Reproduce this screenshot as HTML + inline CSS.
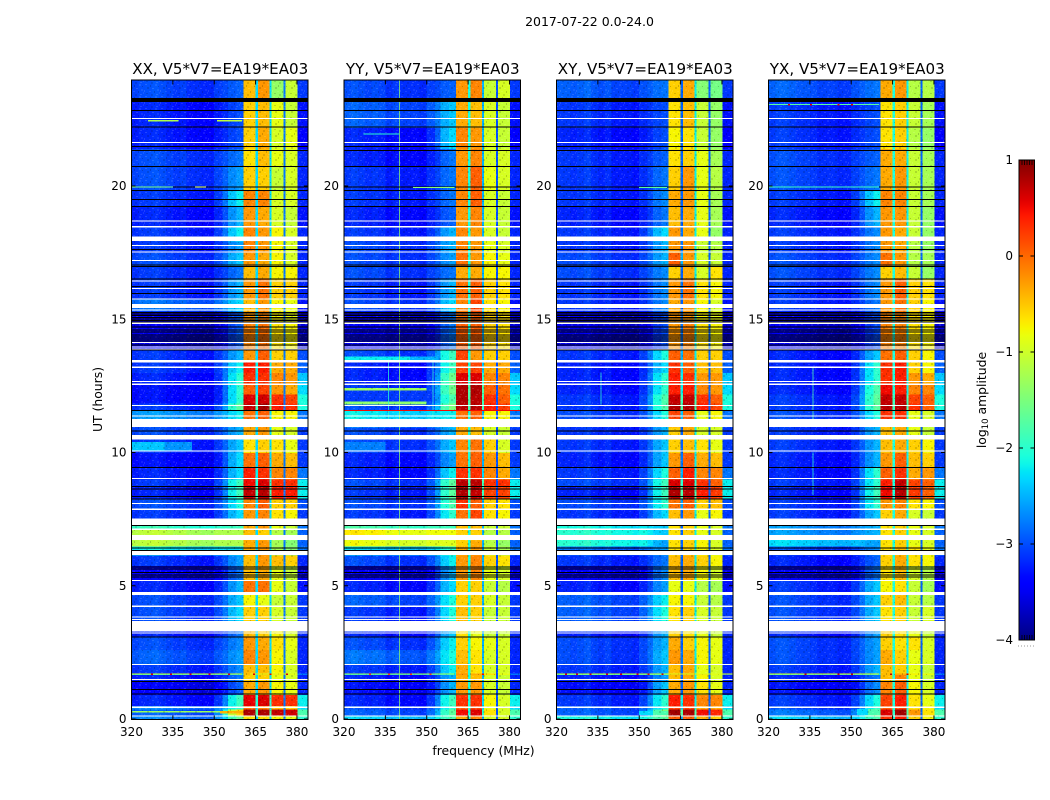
<!DOCTYPE html>
<html>
<head>
<meta charset="utf-8">
<title>2017-07-22 spectrogram</title>
<style>
html,body{margin:0;padding:0;background:#fff;}
svg{display:block;}
text{font-family:"DejaVu Sans","Liberation Sans",sans-serif;fill:#000;}
</style>
</head>
<body>
<svg id="fig" xmlns="http://www.w3.org/2000/svg" width="1050" height="800" viewBox="0 0 1050 800">
  <defs>
    <pattern id="speckle" width="16" height="12" patternUnits="userSpaceOnUse">
      <rect x="1" y="0" width="2" height="1" fill="#fff" opacity=".13"/>
      <rect x="6" y="1" width="1" height="2" fill="#000" opacity=".18"/>
      <rect x="11" y="0" width="2" height="2" fill="#fff" opacity=".09"/>
      <rect x="14" y="2" width="1" height="1" fill="#000" opacity=".2"/>
      <rect x="3" y="3" width="2" height="2" fill="#000" opacity=".14"/>
      <rect x="8" y="4" width="2" height="1" fill="#fff" opacity=".13"/>
      <rect x="13" y="5" width="2" height="2" fill="#fff" opacity=".08"/>
      <rect x="0" y="6" width="1" height="2" fill="#fff" opacity=".12"/>
      <rect x="5" y="7" width="2" height="1" fill="#fff" opacity=".1"/>
      <rect x="10" y="7" width="1" height="2" fill="#000" opacity=".18"/>
      <rect x="2" y="9" width="2" height="1" fill="#000" opacity=".15"/>
      <rect x="7" y="10" width="2" height="2" fill="#000" opacity=".12"/>
      <rect x="12" y="10" width="2" height="1" fill="#fff" opacity=".13"/>
      <rect x="15" y="8" width="1" height="2" fill="#fff" opacity=".09"/>
    </pattern>
    <linearGradient id="jetGradient" x1="0" y1="1" x2="0" y2="0"></linearGradient>
  </defs>
  <text x="589.5" y="26" font-size="12.5" text-anchor="middle">2017-07-22 0.0-24.0</text>
  <text x="483.5" y="755" font-size="12.4" text-anchor="middle">frequency (MHz)</text>
  <text x="0" y="0" font-size="12.4" text-anchor="middle" transform="translate(102,399.5) rotate(-90)">UT (hours)</text>
  <text x="0" y="0" font-size="12.4" text-anchor="middle" transform="translate(986,400) rotate(-90)">log<tspan font-size="8.5" dy="2">10</tspan><tspan dy="-2"> amplitude</tspan></text>
  <g id="panels"></g>
  <g id="colorbar"></g>
</svg>
<script>
const panelTitles = ["XX, V5*V7=EA19*EA03","YY, V5*V7=EA19*EA03","XY, V5*V7=EA19*EA03","YX, V5*V7=EA19*EA03"];
const freqTicks = [320,335,350,365,380];
const hourTicks = [0,5,10,15,20];
const cbarTicks = [-4,-3,-2,-1,0,1];

const hourEdges = [0,.15,.37,.5,.92,1.4,1.66,1.72,2.05,2.6,3.08,3.28,3.67,4.23,4.7,5.2,5.75,6.15,6.49,6.72,6.9,7.12,7.28,7.87,8.25,8.72,9,9.44,10,10.5,10.96,11.26,11.6,11.85,12.2,12.56,13,13.47,13.85,14.85,15.3,15.8,16.5,17,17.5,17.93,18.47,19.24,19.84,20.74,21.4,22.2,23.16,24];

// Per time row: [background, shoulder, band1, band2, band3, band4] in log10 amplitude
const levelsXX = [
[-2.6,-1.6,-.6,-.6,-.7,-.8],[-2.8,-.6,.8,.8,.7,.65],[-2.6,-2,0,-.1,-.4,-.5],[-3.1,-1.9,.55,.6,.3,.3],[-3.3,-2.9,-.3,-.2,-.7,-.8],
[-3.1,-2.8,-.5,-.5,-.8,-.9],[-2.3,-2.3,-.4,-.4,-.6,-.8],[-3,-2.7,-.4,-.4,-.7,-.9],[-2.8,-2.6,-.1,-.2,-.7,-.9],[-2.9,-2.7,-.2,-.3,-.6,-.8],
[-3.1,-2.8,-.4,-.5,-.7,-.9],[-3.1,-2.8,-.4,-.5,-.7,-.9],[-2.9,-2.3,-.5,-.5,-.9,-1],[-2.9,-2.4,-.7,-.8,-1,-1],[-3.1,-2.5,0,0,-.8,-1],
[-3.3,-2.8,-.4,-.3,-.8,-1],[-3,-2.6,-.4,-.2,-.4,-.5],[-2.3,-2.3,-.3,-.2,-1.2,-1.4],[-1.2,-1.2,-.3,-.2,-1.2,-1.4],[-1.2,-1.2,-.3,-.3,-1.2,-1.4],
[-1.2,-1.2,-.4,-.5,-1.1,-1.2],[-2,-1.9,-.3,-.2,-.8,-1],[-3,-2.3,-.2,-.1,-.6,-.7],[-2.9,-2.1,-.1,.1,-.5,-.5],[-3.1,-1.9,.7,.75,.4,.4],
[-3,-1.9,.5,.6,.3,.3],[-3.1,-2.3,.4,.3,-.1,-.1],[-3.2,-2.3,0,.1,-.3,-.4],[-3,-2.4,-.6,-.5,-.6,-.8],[-2.9,-2.5,-.3,-.2,-.8,-.9],
[-2.9,-2.5,-.3,-.2,-.8,-.9],[-2.5,-2.2,0,.1,-.7,-.7],[-3,-1.7,.7,.85,.4,.3],[-3.2,-2,.6,.65,.3,.2],[-3.2,-2,.1,.2,-.2,-.3],
[-3.1,-2,.3,.3,-.1,-.2],[-3,-2.2,.4,.4,-.3,-.3],[-3,-2.5,-.2,.1,-.5,-.5],[-3.4,-2.9,-.1,0,-.6,-.7],[-3.3,-2.9,-.2,-.1,-.7,-.8],
[-2.7,-2.3,-.4,-.2,-.7,-.8],[-3,-2.5,-.2,0,-.5,-.5],[-3,-2.8,-.4,-.3,-.7,-.7],[-2.9,-2.4,-.2,-.3,-.7,-.9],[-3,-2.6,-.1,-.2,-.7,-.9],
[-3,-2.2,-.1,-.2,-.7,-.9],[-3.1,-2.5,-.2,-.3,-.9,-1],[-3,-2.2,-.1,-.1,-.9,-.9],[-2.9,-2.6,-.5,-.5,-1,-.9],[-2.9,-2.8,-.6,-.4,-.8,-.9],
[-3.1,-3,-.5,-.3,-.9,-.8],[-3.1,-3,-.5,-.4,-.8,-1],[-2.9,-2.9,-.4,-.2,-1.3,-1]
];
const levelsYY = [
[-2.4,-1.8,-.3,-.1,-.9,-.9],[-2.8,-1.7,.5,.6,-.6,-.9],[-2.9,-2,.1,.2,-.8,-.9],[-3.1,-1.9,.3,.3,-.7,-.9],[-3.2,-2.5,-.2,-.2,-.9,-1],
[-3.1,-2.5,-.3,-.4,-.9,-1],[-2.4,-2.2,-.2,-.3,-.6,-.8],[-3,-2.2,-.3,-.6,-.9,-.9],[-2.7,-2.1,-.4,-.6,-.9,-.9],[-2.9,-2.2,-.5,-.7,-.8,-.9],
[-3.1,-2.4,-.6,-.8,-1,-1],[-3,-2.4,-.6,-.7,-1,-1],[-3,-2.1,-.4,-.5,-1,-1],[-2.8,-2.1,-.5,-.5,-.9,-1],[-3.1,-2.3,-.5,-.5,-1,-1.1],
[-3.3,-2.5,-.2,-.1,-.8,-.9],[-2.9,-2.2,-.2,-.1,-.5,-.6],[-2.4,-2,-.3,-.2,-1,-1.2],[-.9,-.9,-.5,-.3,-1.1,-1.3],[-1,-1,-.5,-.4,-1.1,-1.2],
[-.8,-.8,-.5,-.5,-1.1,-1.1],[-1.9,-1.9,-.4,-.4,-1,-1],[-3,-2,0,.2,-.6,-.7],[-2.9,-1.8,.3,.1,-.5,-.6],[-3,-1.7,.8,.7,.2,.2],
[-2.9,-1.7,.75,.75,.3,.3],[-3.1,-2.2,.3,.3,-.1,-.3],[-3.1,-2.6,0,.1,-.2,-.4],[-2.9,-2.4,-.1,0,-.5,-.9],[-2.9,-2.5,-.3,-.4,-.9,-1],
[-2.5,-2.4,-.3,-.3,-.8,-.9],[-2.3,-2.2,0,.1,-.7,-.7],[-2.9,-1.5,.75,.75,.4,.25],[-3,-1.8,.8,.75,.3,.1],[-3,-1.6,.8,.8,.1,0],
[-3.1,-1.6,.6,.6,-.1,-.1],[-3.1,-1.9,.2,.2,-.3,-.3],[-2.9,-1.9,.2,-.2,-.5,-.5],[-3.3,-2.8,.1,.1,-.5,-.6],[-3.3,-2.8,0,.1,-.5,-.6],
[-2.9,-2.3,-.1,.2,-.6,-.7],[-3,-2.5,0,.1,-.5,-.6],[-2.9,-2.8,-.3,-.3,-.7,-.7],[-2.9,-2.6,0,-.2,-.7,-.8],[-2.9,-2.5,-.1,-.2,-.8,-.9],
[-3,-2.5,-.1,-.2,-.9,-1],[-3.1,-2.9,-.2,-.1,-.9,-1],[-3,-2.8,-.1,.1,-.9,-1],[-3,-2.8,-.1,.1,-.8,-.9],[-3.1,-2.8,-.2,-.1,-.9,-.9],
[-3.1,-2.3,-.1,-.2,-.9,-1],[-2.8,-2.4,-.3,-.4,-.9,-1],[-2.9,-2.9,-.2,-.1,-1,-.9]
];
const levelsXY = [
[-2.2,-1.7,.1,.1,-.3,-.5],[-2.8,-1.5,.85,.8,.5,.35],[-2.8,-2.1,.2,.2,-.3,-.3],[-3,-2,.4,.3,-.1,-.1],[-3.2,-2.4,-.3,-.2,-.6,-.8],
[-3.1,-2.6,-.4,-.3,-.7,-.9],[-2.2,-2.1,-.3,-.3,-.6,-.8],[-3,-2.5,-.4,-.3,-.8,-.9],[-2.9,-2.4,-.2,-.3,-.7,-.8],[-2.9,-2.5,-.3,-.5,-.7,-.8],
[-3.1,-2.5,-.5,-.6,-.8,-1],[-3,-2.5,-.5,-.6,-.8,-1],[-2.8,-2.1,-.6,-.5,-.9,-1],[-2.8,-2.2,-.7,-.7,-1,-1.1],[-3.1,-2.6,-.8,-.8,-1.1,-1.2],
[-3.3,-2.7,-.4,-.3,-.7,-.9],[-3,-2.8,-.4,-.3,-.5,-.7],[-2.7,-2.6,-.6,-.5,-.7,-.9],[-2.1,-2.6,-.6,-.5,-.7,-.9],[-2.2,-2.5,-.6,-.5,-.7,-.9],
[-2.1,-2.4,-.6,-.5,-.8,-.9],[-2.2,-2.4,-.6,-.5,-.8,-.9],[-3,-2.3,-.4,-.2,-.8,-.7],[-2.9,-2,0,.1,-.5,-.4],[-3.1,-1.9,.8,.75,.4,.25],
[-2.9,-1.9,.6,.6,.3,.1],[-3,-2.1,.1,.4,-.1,-.1],[-3.1,-2.4,-.2,.1,-.3,-.4],[-3,-2.4,-.5,-.4,-.6,-.8],[-3,-2.5,-.5,-.3,-.9,-.9],
[-3,-2.4,-.3,-.3,-.9,-.9],[-2.9,-2.1,.2,.1,-.8,-.7],[-3,-1.8,.8,.8,.4,.2],[-3,-1.8,.7,.7,.3,.1],[-3.1,-2,.4,.4,-.1,-.2],
[-3.1,-2,.4,.3,-.2,-.2],[-3.1,-2.3,.3,.1,-.4,-.4],[-3,-2.1,.1,0,-.5,-.5],[-3.4,-3,-.2,-.1,-.6,-.7],[-3.3,-3,-.2,-.2,-.7,-.8],
[-3,-2.7,-.3,-.2,-.7,-.9],[-3,-2.7,-.2,0,-.6,-.7],[-2.9,-2.7,-.5,-.3,-.9,-.6],[-2.9,-2.5,.1,-.2,-.9,-1],[-3,-2.5,-.2,-.2,-1,-1.1],
[-3,-2.3,-.2,-.3,-.8,-1.3],[-3.1,-2.8,-.4,-.3,-.8,-1.2],[-3,-2.7,-.3,-.2,-.8,-1.2],[-3,-2.8,-.5,-.2,-.8,-1.1],[-3,-2.9,-.6,-.5,-.8,-1.2],
[-3.1,-3,-.7,-.6,-1,-1.3],[-3,-3,-.6,-.4,-1,-1.3],[-2.8,-2.8,-.5,-.3,-1.4,-1.5]
];
const levelsYX = [
[-2.4,-1.8,.3,.4,-.5,-.7],[-2.7,-1.5,.6,.85,-.2,-.6],[-2.9,-2,.1,.2,-.6,-.7],[-3,-2.1,.2,.4,-.6,-.8],[-3.2,-2.7,-.1,.1,-.7,-.9],
[-3.1,-2.8,-.4,-.1,-.8,-1],[-2.3,-2.2,-.4,-.3,-.7,-.8],[-3,-2.5,-.4,-.5,-.8,-1],[-2.9,-2.6,-.3,-.5,-.8,-.9],[-2.9,-2.6,-.5,-.6,-.6,-.9],
[-3.1,-2.6,-.5,-.6,-.8,-1],[-3,-2.6,-.5,-.6,-.8,-1],[-2.9,-2.4,-.6,-.5,-1,-.9],[-2.9,-2.4,-.5,-.4,-1,-1.1],[-3,-2.4,-.7,-.6,-1,-1.2],
[-3.3,-2.8,-.6,-.4,-.9,-1.1],[-3.1,-2.9,-.5,-.3,-.6,-.7],[-2.9,-2.7,-.6,-.4,-.6,-.8],[-2.4,-2.6,-.6,-.5,-.8,-.9],[-2.4,-2.5,-.6,-.5,-.8,-.9],
[-2.5,-2.5,-.6,-.5,-.8,-.9],[-2.5,-2.5,-.6,-.5,-.8,-.9],[-3,-2.4,-.5,-.3,-.9,-1],[-3,-2,-.2,-.1,-.6,-.7],[-3.1,-1.9,.5,.75,.25,.1],
[-3,-2,.4,.7,.2,.1],[-3.1,-2,.1,.3,-.3,-.2],[-3.1,-2.5,-.2,.1,-.4,-.5],[-3,-2.5,-.4,-.3,-.5,-.7],[-3,-2.5,-.4,-.3,-.8,-1],
[-3,-2.4,-.4,-.3,-.8,-1],[-2.9,-2.1,.3,.3,-.8,-.9],[-3,-1.7,.75,.75,.3,.1],[-3,-1.7,.7,.7,.2,.1],[-3.1,-1.8,.5,.4,-.1,-.1],
[-3.1,-2,.3,.4,-.2,-.3],[-3.1,-2,.3,.4,-.5,-.7],[-3.1,-2.4,0,.1,-.5,-.7],[-3.4,-3,-.1,-.1,-.6,-.7],[-3.3,-3,-.1,-.1,-.6,-.7],
[-3,-2.8,-.2,0,-.5,-.7],[-3,-2.7,-.2,.1,-.5,-.6],[-2.9,-2.7,-.5,-.4,-1,-1.3],[-2.9,-2.7,0,-.2,-1.1,-1.2],[-3,-2.7,-.2,-.3,-1.1,-1.3],
[-3,-2.7,-.2,-.3,-1,-1.3],[-3.1,-2.5,-.2,-.2,-1,-1.3],[-3,-2.2,-.1,-.1,-1,-1.2],[-2.9,-2.8,-.3,-.2,-1,-1.2],[-2.9,-2.9,-.3,-.3,-1,-1.2],
[-3,-3,-.6,-.5,-1.1,-1.3],[-3,-3,-.6,-.5,-1,-1.2],[-2.8,-2.8,-.3,-.2,-1.1,-1.1]
];
const tailLevels = [-2,-1.8,-2.3,-2.2,-3,-3,-2.6,-3,-3,-3,-3,-3,-2.9,-2.9,-3.1,-3.3,-3,-2.6,-2.7,-2.7,-2.7,-2.6,-2.9,-2.8,-2.2,-2.2,-2.6,-2.9,-2.9,-2.9,-2.8,-2.6,-2.1,-2.1,-2.3,-2.4,-2.7,-2.8,-3.4,-3.3,-3.1,-3,-3,-3,-3,-3,-3.1,-3,-3,-3,-3.2,-3.1,-2.9];

const notchLevelsXX = [-2.3,-2.3,-2.8];
const notchLevelsYY = [-2.1,-2.5,-3];
const notchLevelsXY = [-2.9,-2.2,-2.9];
const notchLevelsYX = [-2.1,-2.2,-2.9];

// Slow per-channel ripple of the 320-350 MHz background
const bgRippleXX = [.05,.1,.12,.15,.1,.05,0,.05,-.05,-.05,-.1,-.1];
const bgRippleYY = [.1,.15,.1,.05,.1,.05,-.05,0,-.05,-.05,-.05,-.1];
const bgRippleXY = [.1,.1,.05,.1,.15,.05,0,.05,-.05,-.05,-.05,-.1];
const bgRippleYX = [.1,.15,.15,.1,.05,.05,0,-.05,-.05,-.05,-.1,-.1];

// Localised bright patches: [from hour, to hour, from MHz, to MHz, level]
const patchesXX = [[10.03,10.4,320,332,-2.4],[10.03,10.4,332,342,-2.65],[.25,.3,320,352,-1.3],[.2,.3,352,360.6,-.4]];
const patchesYY = [[13.47,13.6,320,344,-2.2],[13.47,13.6,344,354,-2.5],[10.05,10.4,320,335,-2.75],[11.8,11.92,320,350,-1.4],[12.33,12.42,320,350,-1.3],[11.92,12.3,320,352,-3.1]];
const patchesXY = [[.15,.3,350,355,-2.3],[.15,.3,355,360.6,-1.8]];
const patchesYX = [[.15,.37,352,356,-2.3],[.15,.37,356,360.6,-1.8]];

// Narrow interference: [hour, from MHz, to MHz, level]
const stripesXX = [[22.45,326,337,-1.2],[22.45,351,360,-1.1],[19.97,320,335,-1.5],[19.97,343,347,-.8],[1.69,320,360,-.9],[1.69,363,380,-.9]];
const stripesYY = [[21.95,327,340,-2],[19.95,345,360,-1.4],[1.69,320,360,-1.2],[11.58,320,384,.5]];
const stripesXY = [[19.95,350,360,-1.7],[1.69,320,384,-.9]];
const stripesYX = [[23.06,320,360,-1.7],[19.97,320,360,-1.9],[1.69,320,360,-.8]];
// [freq MHz, from hour, to hour, level]
const freqLinesXX = [];
const freqLinesYY = [[340,0,24,-1.4],[336,11,13.5,-2],[352,11,13.5,-2]];
const freqLinesXY = [[336,11.8,13,-2]];
const freqLinesYX = [[336,11,13.2,-1.8],[336,8.4,10,-2]];
// [hour, freq MHz, level]
const hotDotsXX = [[1.69,327,.6],[1.69,334,.6],[1.69,341,.6],[1.69,348,.6],[1.69,355,.6],[1.69,364,.6],[1.69,370,.6],[1.69,376,.6]];
const hotDotsYY = [[1.69,329,.2],[1.69,336,.2],[1.69,344,.2],[1.69,351,.2],[1.69,370,.5]];
const hotDotsXY = [[1.69,323,.6],[1.69,327,.6],[1.69,332,.6],[1.69,338,.6],[1.69,343,.6],[1.69,349,.6],[1.69,353,.6],[1.69,358,.6]];
const hotDotsYX = [[23.05,327,.6],[23.05,335,.6],[23.05,345,.6],[23.05,350,.6],[1.69,333,.7],[1.69,345,.7],[1.69,350,.7],[1.69,364,.7],[1.69,370,.7]];

// Flagged time ranges, blank in every panel: [from hour, to hour]
const blankRanges = [[22.52,22.56],[21.62,21.66],[18.67,18.71],[18.44,18.5],[17.93,18.1],[17.74,17.78],[17.5,17.54],[17.19,17.23],[16.42,16.46],[16.14,16.18],[15.74,15.78],[15.43,15.58],[15.33,15.37],[14.83,14.87],[14.1,14.14],[13.94,13.98],[13.86,13.9],[13.37,13.47],[13.18,13.22],[12.65,12.69],[12.54,12.58],[11.74,11.78],[11.35,11.39],[10.96,11.26],[10.49,10.66],[10.04,10.08],[9,9.04],[8.07,8.11],[7.85,7.89],[7.28,7.52],[7.1,7.14],[6.72,6.9],[6.15,6.3],[5.18,5.22],[4.65,4.77],[4.21,4.25],[3.8,3.84],[3.72,3.76],[3.28,3.67],[3.2,3.24],[2.03,2.07],[1.47,1.51],[.42,.46],[.09,.13]];
// Flagged hours drawn as black rules
const blackHours = [22.84,22.22,21.49,21.34,20.74,19.97,19.84,19.5,19.24,17.62,17.04,16.97,16.51,16.22,15.97,15.26,15.2,15.14,15.07,15.01,14.95,14.89,14.7,14.6,14.52,14.41,14.33,14.26,14.18,14.03,13.84,11.58,10.8,9.44,8.72,8.63,8.34,8.25,7.27,6.41,6.32,5.71,5.62,5.5,5.41,5.32,3.08,1.4,1.11,.93];
const blackBands = [[23.16,23.3]];

const panelLevels = [levelsXX,levelsYY,levelsXY,levelsYX];
const panelNotches = [notchLevelsXX,notchLevelsYY,notchLevelsXY,notchLevelsYX];
const panelRipples = [bgRippleXX,bgRippleYY,bgRippleXY,bgRippleYX];
const panelPatches = [patchesXX,patchesYY,patchesXY,patchesYX];
const panelStripes = [stripesXX,stripesYY,stripesXY,stripesYX];
const panelLines = [freqLinesXX,freqLinesYY,freqLinesXY,freqLinesYX];
const panelDots = [hotDotsXX,hotDotsYY,hotDotsXY,hotDotsYX];
const panelNames = ["xx","yy","xy","yx"];

const SVGNS = "http://www.w3.org/2000/svg";
const layout = {lefts:[131.5,344,556.5,768.5], width:176.5, top:80.5, bottom:719.5};
const FMIN = 320, FMAX = 384;
const hourY = h => 719 - 26.65 * h;
const cbarY = v => 640 - 96 * (v + 4);

function mk(tag, attrs, parent){
  const e = document.createElementNS(SVGNS, tag);
  for(const k in attrs) e.setAttribute(k, attrs[k]);
  parent.appendChild(e);
  return e;
}
function ramp(t, pts){
  if(t <= pts[0][0]) return pts[0][1];
  for(let i = 1; i < pts.length; i++){
    if(t <= pts[i][0]){
      const a = pts[i-1], b = pts[i];
      return a[1] + (b[1]-a[1]) * (t-a[0]) / (b[0]-a[0]);
    }
  }
  return pts[pts.length-1][1];
}
function jet(v){
  const t = Math.max(0, Math.min(1, (v + 4) / 5));
  const r = ramp(t, [[.35,0],[.66,1],[.89,1],[1,.5]]);
  const g = ramp(t, [[.125,0],[.375,1],[.64,1],[.91,0]]);
  const b = ramp(t, [[0,.5],[.11,1],[.34,1],[.65,0]]);
  return "rgb(" + Math.round(r*255) + "," + Math.round(g*255) + "," + Math.round(b*255) + ")";
}
// Display calibration of the quiet floor and of the band plateaus
const floorLevel = v => (v <= -2.5 ? v - .2 : v);
const bandLevel = v => (v < .2 ? v - .05 : v);
function columnsFor(row, tail, notch, ripple){
  const cols = [];
  const bg = floorLevel(row[0]);
  ripple.forEach((d, i) => cols.push([320 + i*2.5, 322.5 + i*2.5, bg + d]));
  const sh = [[350,353,.12],[353,355,.4],[355,358,.8],[358,360.6,1]];
  sh.forEach(s => cols.push([s[0], s[1], bg + (row[1]-bg) * s[2]]));
  cols.push([360.6,365,bandLevel(row[2])],[365,365.8,Math.max(notch[0],row[2]-2.6)]);
  cols.push([365.8,370,bandLevel(row[3])],[370,370.8,Math.max(notch[1],row[3]-2.6)]);
  cols.push([370.8,375.1,bandLevel(row[4])],[375.1,375.9,notch[2]]);
  cols.push([375.9,380.2,bandLevel(row[5])],[380.2,384,floorLevel(tail)]);
  return cols;
}

const root = document.getElementById("panels");
panelTitles.forEach((title, p) => {
  const x0 = layout.lefts[p];
  const fx = f => x0 + (f - FMIN) * layout.width / (FMAX - FMIN);
  const g = mk("g", {}, root);
  
  

  const clipId = "clip" + p;
  const defs = mk("clipPath", {id:clipId}, g);
  mk("rect", {x:x0, y:layout.top, width:layout.width, height:layout.bottom-layout.top}, defs);

  const plot = mk("g", {"clip-path":"url(#"+clipId+")", "shape-rendering":"crispEdges"}, g);
  
  

  panelLevels[p].forEach((row, r) => {
    const y1 = hourY(hourEdges[r]), y0 = hourY(hourEdges[r+1]);
    columnsFor(row, tailLevels[r], panelNotches[p], panelRipples[p]).forEach(c => {
      const cell = mk("rect", {x:fx(c[0]).toFixed(2), y:y0.toFixed(2), width:(fx(c[1])-fx(c[0])+.4).toFixed(2), height:(y1-y0+.4).toFixed(2), fill:jet(c[2])}, plot);
      
      
    });
  });

  panelPatches[p].forEach(s => {
    const k = mk("rect", {x:fx(s[2]), y:hourY(s[1]), width:fx(s[3])-fx(s[2]), height:hourY(s[0])-hourY(s[1]), fill:jet(s[4])}, plot);
    
    
  });

  const noise = mk("rect", {x:x0, y:layout.top, width:layout.width, height:layout.bottom-layout.top, fill:"url(#speckle)"}, plot);
  
  

  panelLines[p].forEach(l => {
    const ln = mk("rect", {x:fx(l[0]), y:hourY(l[2]), width:1, height:hourY(l[1])-hourY(l[2]), fill:jet(l[3]), opacity:.75}, plot);
    
    
  });
  blankRanges.forEach(b => {
    const w = mk("rect", {x:x0, y:hourY(b[1]), width:layout.width, height:Math.max(1,hourY(b[0])-hourY(b[1])), fill:"#fff"}, plot);
    
    
  });
  blackHours.forEach(h => {
    const k = mk("rect", {x:x0, y:hourY(h)-.5, width:layout.width, height:1, fill:"#000"}, plot);
    
    
  });
  blackBands.forEach(b => {
    const k = mk("rect", {x:x0, y:hourY(b[1]), width:layout.width, height:hourY(b[0])-hourY(b[1]), fill:"#000"}, plot);
    
    
  });
  panelStripes[p].forEach(s => {
    const k = mk("rect", {x:fx(s[1]), y:hourY(s[0])-.5, width:fx(s[2])-fx(s[1]), height:1.2, fill:jet(s[3])}, plot);
    
    
  });
  panelDots[p].forEach(d => {
    const k = mk("rect", {x:fx(d[1]), y:hourY(d[0])-.5, width:2, height:1.4, fill:jet(d[2])}, plot);
    
    
  });

  const frame = mk("rect", {x:x0, y:layout.top-.5, width:layout.width, height:layout.bottom-layout.top+.5, fill:"none", stroke:"#000", "stroke-width":1}, g);
  
  

  const ttl = mk("text", {x:x0+layout.width/2+.5, y:74, "font-size":15.1, "text-anchor":"middle"}, g);
  ttl.textContent = title;
  
  

  freqTicks.forEach(f => {
    const x = fx(f);
    const tb = mk("line", {x1:x, x2:x, y1:layout.bottom, y2:layout.bottom-4, stroke:"#000"}, g);
    
    
    const tt = mk("line", {x1:x, x2:x, y1:layout.top, y2:layout.top+4, stroke:"#000"}, g);
    
    
    const lb = mk("text", {x:x, y:736, "font-size":12, "text-anchor":"middle"}, g);
    lb.textContent = f;
    
    
  });
  hourTicks.forEach(h => {
    const y = Math.min(hourY(h), layout.bottom);
    const tl = mk("line", {x1:x0, x2:x0+4, y1:y, y2:y, stroke:"#000"}, g);
    
    
    const tr = mk("line", {x1:x0+layout.width, x2:x0+layout.width-4, y1:y, y2:y, stroke:"#000"}, g);
    
    
    const lb = mk("text", {x:x0-5, y:y+4, "font-size":12, "text-anchor":"end"}, g);
    lb.textContent = h;
    
    
  });
});

// Colorbar
const grad = document.getElementById("jetGradient");
for(let i = 0; i <= 60; i++){
  mk("stop", {offset:(i/60), "stop-color":jet(-4 + 5*i/60)}, grad);
}
const cb = document.getElementById("colorbar");
const cbX = 1019, cbW = 15.5;
const cbBar = mk("rect", {x:cbX, y:cbarY(1), width:cbW, height:cbarY(-4)-cbarY(1), fill:"url(#jetGradient)", stroke:"#000", "stroke-width":1}, cb);


cbarTicks.forEach(v => {
  const y = cbarY(v);
  const a = mk("line", {x1:cbX, x2:cbX+4, y1:y, y2:y, stroke:"#000"}, cb);
  
  
  const b = mk("line", {x1:cbX+cbW, x2:cbX+cbW-4, y1:y, y2:y, stroke:"#000"}, cb);
  
  
  const t = mk("text", {x:1013, y:y+4, "font-size":12, "text-anchor":"end"}, cb);
  t.textContent = (v < 0 ? "\u2212" + (-v) : "" + v);
  
  
});
[1022,1024.5,1027,1029.5,1032].forEach(x => {
  const u = mk("line", {x1:x, x2:x, y1:cbarY(1), y2:cbarY(1)+5, stroke:"#000", "stroke-width":.8}, cb);
  
  
  const d = mk("line", {x1:x, x2:x, y1:cbarY(-4), y2:cbarY(-4)-5, stroke:"#000", "stroke-width":.8}, cb);
  
  
});
[1018,1021,1024,1027,1030,1033].forEach(x => {
  const o = mk("rect", {x:x, y:645.5, width:1, height:1, fill:"#999"}, cb);
  
  
});
</script>
</body>
</html>
